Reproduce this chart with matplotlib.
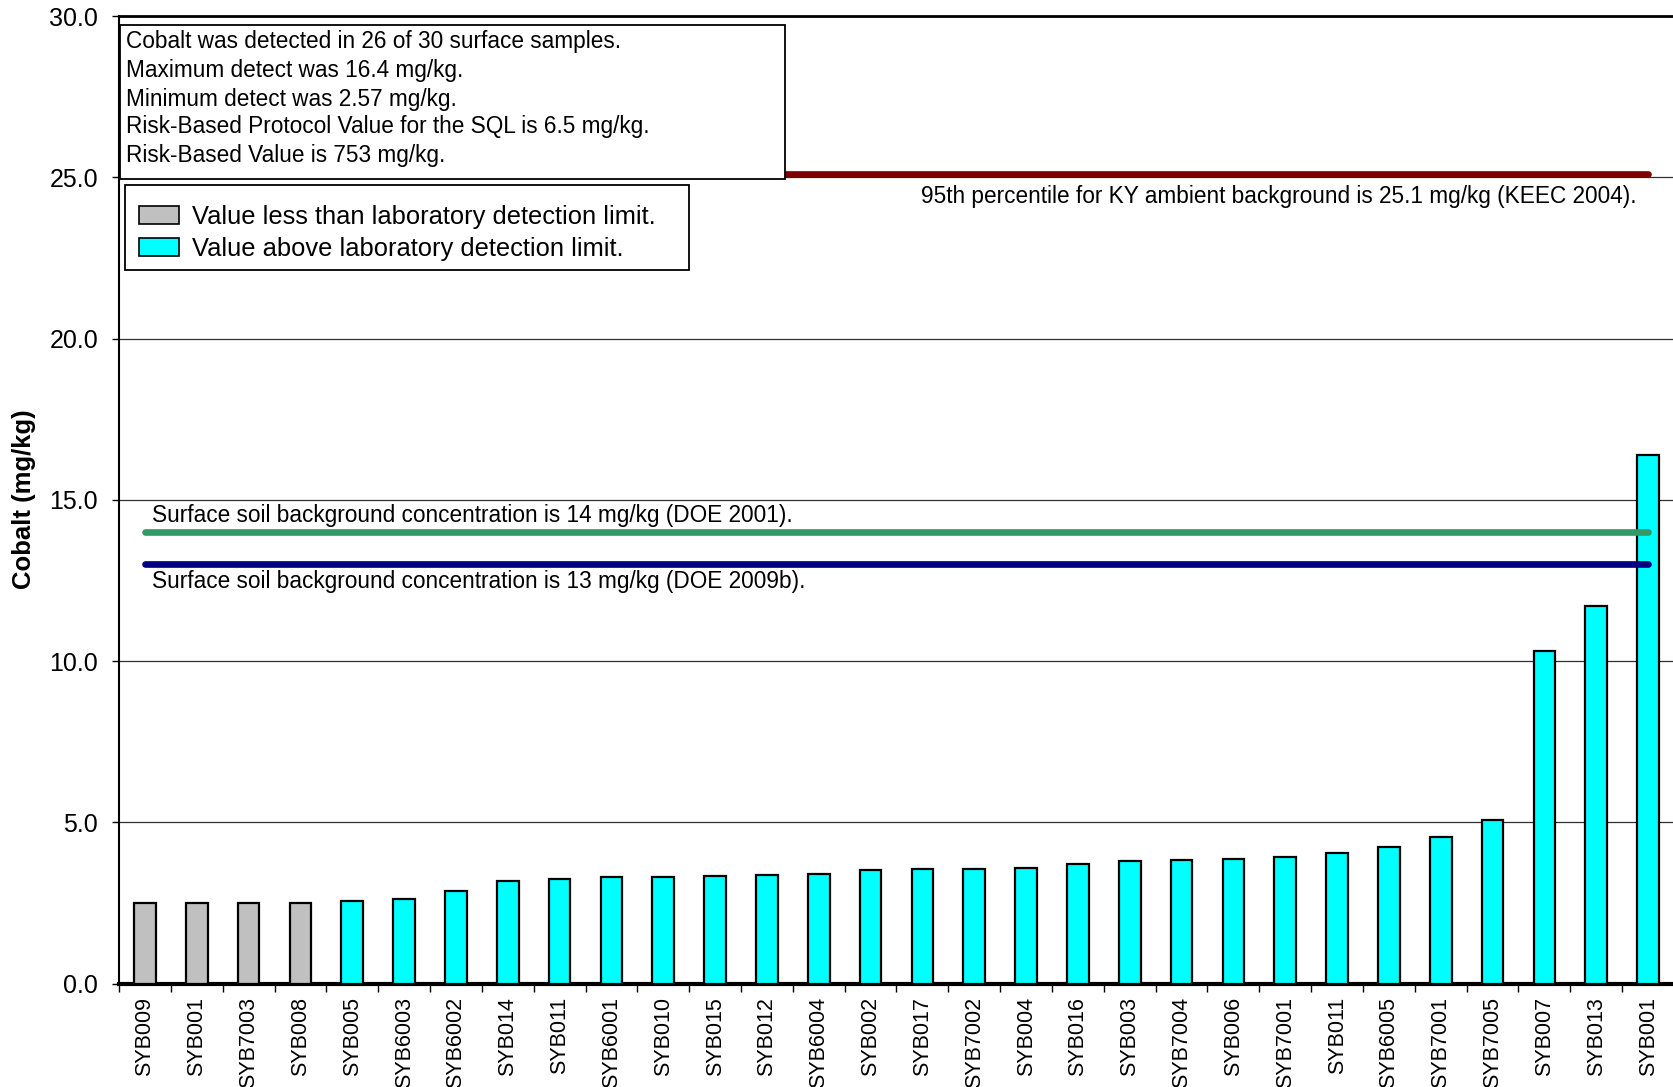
import matplotlib
matplotlib.use("Agg")
import matplotlib.pyplot as plt
from matplotlib.patches import Patch, Rectangle

plt.rcParams['font.family'] = ['Liberation Sans', 'DejaVu Sans']

# ---------------- data ----------------
samples = ["SYB009", "SYB001", "SYB7003", "SYB008", "SYB005", "SYB6003", "SYB6002",
           "SYB014", "SYB011", "SYB6001", "SYB010", "SYB015", "SYB012", "SYB6004",
           "SYB002", "SYB017", "SYB7002", "SYB004", "SYB016", "SYB003", "SYB7004",
           "SYB006", "SYB7001", "SYB011", "SYB6005", "SYB7001", "SYB7005", "SYB007",
           "SYB013", "SYB001"]
cobalt = [2.5, 2.5, 2.5, 2.5, 2.57, 2.63, 2.88, 3.17, 3.26, 3.31, 3.31, 3.33, 3.38, 3.39,
          3.52, 3.55, 3.55, 3.6, 3.7, 3.79, 3.83, 3.88, 3.94, 4.06, 4.25, 4.54, 5.07,
          10.3, 11.7, 16.4]
detected = [False, False, False, False] + [True] * 26

ref_values = [25.1, 14.0, 13.0]
ref_colors = ["#800000", "#339966", "#000080"]
ref_labels = ["95th percentile for KY ambient background is 25.1 mg/kg (KEEC 2004).",
              "Surface soil background concentration is 14 mg/kg (DOE 2001).",
              "Surface soil background concentration is 13 mg/kg (DOE 2009b)."]

stats_lines = ["Cobalt was detected in 26 of 30 surface samples.",
               "Maximum detect was 16.4 mg/kg.",
               "Minimum detect was 2.57 mg/kg.",
               "Risk-Based Protocol Value for the SQL is 6.5 mg/kg.",
               "Risk-Based Value is 753 mg/kg."]
legend_labels = ["Value less than laboratory detection limit.",
                 "Value above laboratory detection limit."]
y_ticks = [0, 5, 10, 15, 20, 25, 30]
y_label = "Cobalt (mg/kg)"

# ---------------- layout ----------------
W, H = 1673, 1087
fig = plt.figure(figsize=(W / 100, H / 100), dpi=100)
fig.patch.set_facecolor("white")


def fx(p):
    return p / W


def fy(p):
    return 1 - p / H


ax = fig.add_axes([fx(119), fy(983.7), fx(1674 - 119), (983.7 - 16) / H])

n = len(samples)
xs = list(range(n))
colors = ["#00FFFF" if d else "#C0C0C0" for d in detected]
ax.bar(xs, cobalt, width=0.42, color=colors, edgecolor="black", linewidth=1.6, zorder=3)

ax.set_xlim(-0.5, n - 0.5)
ax.set_ylim(0, 30)
ax.set_yticks(y_ticks)
ax.set_yticklabels([f"{v:.1f}" for v in y_ticks], fontsize=18)
ax.tick_params(axis="y", direction="out", length=5, width=1, pad=10)

# x ticks: marks at boundaries, labels at centres
ax.set_xticks([i - 0.5 for i in range(n + 1)])
ax.set_xticklabels([])
ax.tick_params(axis="x", which="major", direction="out", length=6, width=1)
ax.set_xticks(xs, minor=True)
ax.set_xticklabels(samples, minor=True, rotation=90, fontsize=15.5, va="top", ha="center")
ax.tick_params(axis="x", which="minor", length=0, pad=9.5)

ax.set_axisbelow(True)
ax.yaxis.grid(True, color="#303030", linewidth=0.9)
ax.spines["right"].set_visible(False)
ax.spines["top"].set_linewidth(2.0)
ax.spines["left"].set_linewidth(1.5)
ax.spines["bottom"].set_linewidth(3.0)

fig.text(fx(24), fy(499), y_label, fontsize=18.5, fontweight="bold", rotation=90,
         ha="center", va="center")

# reference lines
for v, c in zip(ref_values, ref_colors):
    ax.plot([0, n - 1], [v, v], color=c, linewidth=4.8, solid_capstyle="round", zorder=4)

ax.text(28.77, 24.41, ref_labels[0], fontsize=16.3, ha="right", va="center", zorder=5)
ax.text(0.13, 14.52, ref_labels[1], fontsize=16.3, ha="left", va="center", zorder=5)
ax.text(0.13, 12.48, ref_labels[2], fontsize=16.3, ha="left", va="center", zorder=5)

# stats box
rect = Rectangle((fx(120), fy(179)), fx(785 - 120), (179 - 25) / H,
                 transform=fig.transFigure, facecolor="white", edgecolor="black",
                 linewidth=1.3, zorder=2)
fig.add_artist(rect)
line_y = [41.5, 70.3, 99.1, 126.8, 155.6]
for t, yy in zip(stats_lines, line_y):
    fig.text(fx(126), fy(yy), t, fontsize=16.3, ha="left", va="center", zorder=3)

# legend with own frame
frame = Rectangle((fx(125), fy(270)), fx(689 - 125), (270 - 185) / H,
                  transform=fig.transFigure, facecolor="white", edgecolor="black",
                  linewidth=1.3, zorder=2)
fig.add_artist(frame)
handles = [Patch(facecolor="#C0C0C0", edgecolor="black", linewidth=1.2),
           Patch(facecolor="#00FFFF", edgecolor="black", linewidth=1.2)]
leg = fig.legend(handles, legend_labels, loc="upper left",
                 bbox_to_anchor=(fx(139), fy(204.5)), bbox_transform=fig.transFigure,
                 fontsize=18.4, frameon=False, borderaxespad=0, handlelength=1.57,
                 handleheight=0.7, handletextpad=0.5, labelspacing=0.32, borderpad=0)
leg.set_zorder(6)

fig.savefig("out.png", dpi=100)
